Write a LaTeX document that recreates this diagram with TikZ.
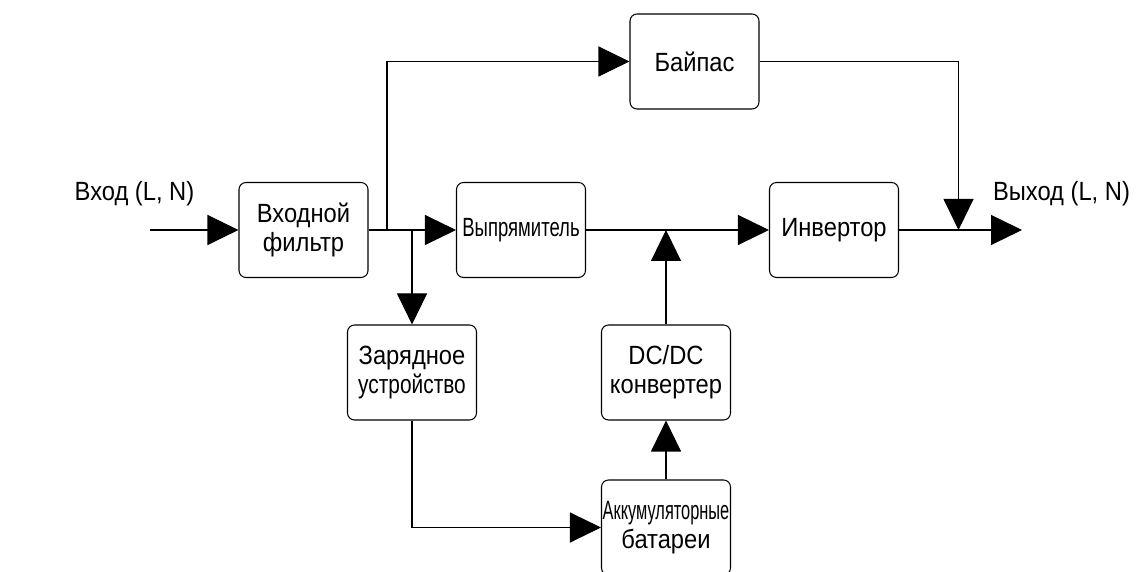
\documentclass[tikz,border=0pt]{standalone}
\usepackage{fontspec}
\setmainfont{Liberation Sans}[FakeStretch=0.9]
\usetikzlibrary{arrows.meta}

\begin{document}
\begin{tikzpicture}[line width=0.6pt,
  blk/.style={draw, rounded corners=4pt, minimum width=2.58cm, minimum height=1.9cm, inner sep=0pt, align=center, font=\fontsize{15pt}{16.5pt}\selectfont},
  lbl/.style={font=\fontsize{15pt}{16.5pt}\selectfont},
  arr/.style={-{Triangle[length=0.62cm, width=0.6cm]}}]

\useasboundingbox (0,0) rectangle (22.76,11.44);

 % blocks
\node[blk] (filt) at (6.07,6.84) {Входной\\фильтр};
\node[blk] (byp) at (13.89,10.21) {Байпас};
\node[blk] (rect) at (10.42,6.84) {\scalebox{0.78}[1]{Выпрямитель}};
\node[blk] (inv) at (16.68,6.84) {Инвертор};
\node[blk] (chg) at (8.24,3.99) {Зарядное\\\scalebox{0.88}[1]{устройство}};
\node[blk] (dcdc) at (13.32,3.99) {DC/DC\\конвертер};
\node[blk] (bat) at (13.32,0.89) {\scalebox{0.69}[1]{Аккумуляторные}\\батареи};

 % input and output
\node[lbl] (inlbl) at (2.69,7.56) {Вход (L, N)};
\node[lbl] (outlbl) at (21.23,7.56) {Выход (L, N)};
\coordinate (in) at (3.0,6.84);
\coordinate (out) at (20.44,6.84);
\coordinate (jbyp) at (7.74,6.84);
\coordinate (jout) at (19.17,6.84);

\draw[arr] (in) -- (filt.west);
\draw[arr] (filt.east) -- (rect.west);
\draw[arr] (jbyp) |- (byp.west);
\draw[arr] (chg.north |- filt.east) -- (chg.north);
\draw[arr] (rect.east) -- (inv.west);
\draw[arr] (dcdc.north) -- (dcdc.north |- rect.east);
\draw[arr] (bat.north) -- (dcdc.south);
\draw[arr] (chg.south) |- (bat.west);
\draw[arr] (byp.east) -| (jout);
\draw[arr] (inv.east) -- (out);

\end{tikzpicture}
\end{document}
